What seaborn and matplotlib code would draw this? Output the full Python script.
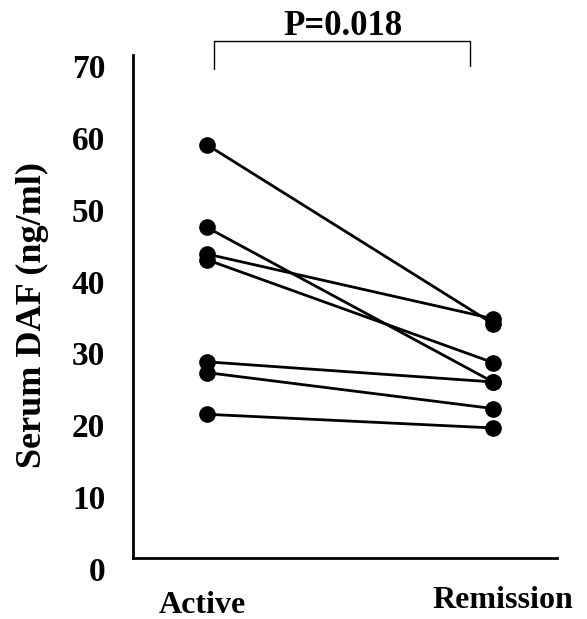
import matplotlib
matplotlib.use("Agg")
import matplotlib.pyplot as plt
import matplotlib.transforms as mtransforms
import seaborn as sns
import pandas as pd

conditions = ["Active", "Remission"]
active_vals = [57.5, 46.0, 42.3, 41.5, 27.3, 25.8, 20.0]
remission_vals = [32.6, 24.5, 33.3, 27.2, 24.5, 20.8, 18.1]
yticks = [0, 10, 20, 30, 40, 50, 60, 70]
p_text = "P=0.018"

rows = []
for i, (a, r) in enumerate(zip(active_vals, remission_vals)):
    rows.append({"subject": i, "pos": 0, "value": a})
    rows.append({"subject": i, "pos": 1, "value": r})
df = pd.DataFrame(rows)

sns.set_theme(style="white")
plt.rcParams["font.family"] = ["Liberation Serif", "DejaVu Serif"]
plt.rcParams["text.color"] = "black"
plt.rcParams["axes.labelcolor"] = "black"
plt.rcParams["xtick.color"] = "black"
plt.rcParams["ytick.color"] = "black"

fig = plt.figure(figsize=(5.87, 6.19), dpi=100)
ax = fig.add_axes([133/587, 1-558/619, 424/587, 503/619])

sns.lineplot(data=df, x="pos", y="value", units="subject", estimator=None,
             color="black", marker="o", markersize=12, markeredgewidth=0,
             linewidth=2.0, ax=ax, legend=False)

ax.set_xlim(-0.259, 1.224)
ax.set_ylim(0, 70)
ax.set_yticks(yticks)
ax.set_yticklabels([str(t) for t in yticks], fontsize=24, fontweight="bold", color="black")
ax.set_xticks([0, 1])
ax.set_xticklabels(conditions, fontsize=23, fontweight="bold", color="black")
ax.tick_params(axis="y", direction="in", length=4, width=1.5, pad=20, colors="black")
ax.tick_params(axis="x", length=0, pad=24, colors="black")
for lab in ax.get_yticklabels():
    lab.set_transform(lab.get_transform() + mtransforms.ScaledTranslation(0, -0.11, fig.dpi_scale_trans))
xl = ax.get_xticklabels()
xl[0].set_transform(xl[0].get_transform() + mtransforms.ScaledTranslation(-0.05, 0, fig.dpi_scale_trans))
xl[1].set_transform(xl[1].get_transform() + mtransforms.ScaledTranslation(0.10, 0.05, fig.dpi_scale_trans))

ax.set_xlabel("")
ax.set_ylabel("Serum DAF (ng/ml)", fontsize=26, fontweight="bold", color="black")
ax.yaxis.set_label_coords(-0.198, 0.483)

for side in ["top", "right"]:
    ax.spines[side].set_visible(False)
for side in ["left", "bottom"]:
    ax.spines[side].set_color("black")
    ax.spines[side].set_linewidth(2)

# significance bracket
ax.plot([0.025, 0.025, 0.92, 0.92], [68.0, 72.0, 72.0, 68.4], color="black",
        linewidth=1.0, clip_on=False)
ax.text(0.475, 72.8, p_text, ha="center", va="baseline", fontsize=25,
        fontweight="bold", color="black")

fig.savefig("out.png", dpi=100, facecolor="white")
